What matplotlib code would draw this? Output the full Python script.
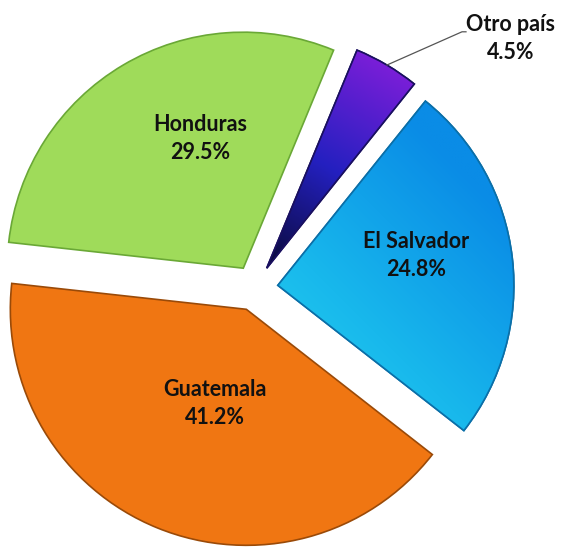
import numpy as np
import matplotlib
matplotlib.use("Agg")
import matplotlib.pyplot as plt
from matplotlib.patches import Wedge
from matplotlib.colors import LinearSegmentedColormap

# datos (orden horario desde arriba)
paises = ["Otro país", "El Salvador", "Guatemala", "Honduras"]
porcentajes = [4.5, 24.8, 41.2, 29.5]

colores = ["#3a1fc8", "#12a6ea", "#f07612", "#9fdb5a"]
bordes = ["#1a1060", "#0b6fa8", "#9a4a08", "#6aa836"]
# degradados: (colores, modo) ; None = color plano
degradados = [(["#0a0a38", "#2420c0", "#7a1ed8"], "radial"),
              (["#2cdcee", "#18b8ec", "#0a8ce6"], "diag"), None, None]

# posicion de etiquetas: (fraccion del radio, angulo) desde el centro de cada cuña
pos_etiquetas = [(1.42, 43.2), (0.60, 12.0), (0.42, 251.7), (0.58, 108.3)]

W, H = 561, 548
fig = plt.figure(figsize=(W / 100, H / 100), dpi=100)
ax = fig.add_axes([0, 0, 1, 1])

R = 236
centro = (255, H - 288)
wedges, _ = ax.pie(porcentajes, colors=colores, startangle=67.5, counterclock=False,
                   explode=[23] * 4, radius=R, center=centro,
                   wedgeprops=dict(linewidth=1.2))

for w, ec, grad in zip(wedges, bordes, degradados):
    w.set_edgecolor(ec)
    if grad is None:
        continue
    cols, modo = grad
    cx, cy = w.center
    r = w.r
    mid = np.deg2rad((w.theta1 + w.theta2) / 2)
    xs = np.linspace(cx - r, cx + r, 300)
    ys = np.linspace(cy - r, cy + r, 300)
    X, Y = np.meshgrid(xs, ys)
    if modo == "radial":
        # del vertice hacia el borde exterior
        t = ((X - cx) * np.cos(mid) + (Y - cy) * np.sin(mid)) / r
    else:
        # de abajo-izquierda a arriba-derecha
        t = ((X - cx) + (Y - cy)) / np.sqrt(2) / r
        t = (t + 0.6) / 1.5
    t = np.clip(t, 0, 1)
    cmap = LinearSegmentedColormap.from_list("g", cols)
    im = ax.imshow(t, extent=(cx - r, cx + r, cy - r, cy + r), origin="lower",
                   cmap=cmap, vmin=0, vmax=1, zorder=w.get_zorder() + 0.1,
                   interpolation="bilinear")
    im.set_clip_path(w)
    ax.add_patch(Wedge((cx, cy), r, w.theta1, w.theta2, fill=False,
                       edgecolor=ec, lw=1.2, zorder=w.get_zorder() + 0.2))

ax.set_xlim(0, W)
ax.set_ylim(0, H)
ax.axis("off")

fuente = ["Lato", "DejaVu Sans"]
for w, nombre, p, (fr, ang) in zip(wedges, paises, porcentajes, pos_etiquetas):
    cx, cy = w.center
    a = np.deg2rad(ang)
    tx = cx + fr * w.r * np.cos(a)
    ty = cy + fr * w.r * np.sin(a)
    ax.text(tx, ty, f"{nombre}\n{p:.1f}%", ha="center", va="center",
            multialignment="center", fontsize=15.5, fontweight="bold",
            family=fuente, linespacing=1.4, color="#111111", zorder=10)

# linea guia de "Otro país"
w = wedges[0]
cx, cy = w.center
mid = np.deg2rad((w.theta1 + w.theta2) / 2)
x0, y0 = cx + w.r * np.cos(mid), cy + w.r * np.sin(mid)
a = np.deg2rad(pos_etiquetas[0][1])
lx = cx + pos_etiquetas[0][0] * w.r * np.cos(a) - 45
ly = cy + pos_etiquetas[0][0] * w.r * np.sin(a) + 7
ax.plot([x0, lx - 4, lx], [y0, ly, ly], color="#555555", lw=0.9, zorder=9)

fig.savefig("out.png", dpi=100)
